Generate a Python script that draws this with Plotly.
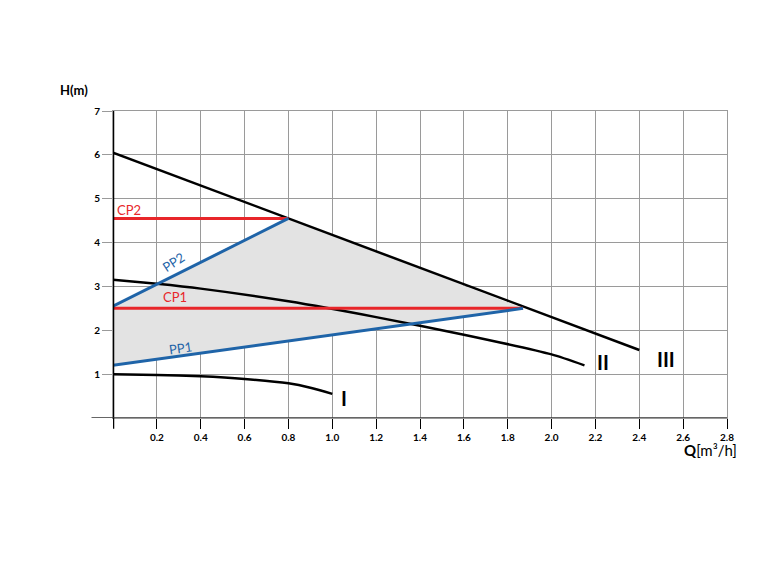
import plotly.graph_objects as go

q1 = [0, 0.2, 0.4, 0.6, 0.8, 0.9, 1.0]
h1 = [1.0, 0.98, 0.95, 0.89, 0.79, 0.69, 0.55]
q2 = [0, 0.2, 0.4, 0.8, 1.2, 1.6, 2.0, 2.15]
h2 = [3.15, 3.06, 2.95, 2.66, 2.3, 1.9, 1.45, 1.2]
q3 = [0, 2.4]
h3 = [6.05, 1.55]
shade_q = [0, 0, 0.8, 1.87, 0]
shade_h = [1.2, 2.55, 4.55, 2.5, 1.2]
cp2_q, cp2_h = [0, 0.8], [4.55, 4.55]
pp2_q, pp2_h = [0, 0.8], [2.55, 4.55]
cp1_q, cp1_h = [0, 1.87], [2.5, 2.5]
pp1_q, pp1_h = [0, 1.87], [1.2, 2.5]
xticks = [0.2, 0.4, 0.6, 0.8, 1.0, 1.2, 1.4, 1.6, 1.8, 2.0, 2.2, 2.4, 2.6, 2.8]
yticks = [1, 2, 3, 4, 5, 6, 7]

RED = "#e8262a"; BLUE = "#1f64a8"
fig = go.Figure()
fig.add_trace(go.Scatter(x=shade_q, y=shade_h, fill="toself", fillcolor="#e3e3e3", line=dict(width=0), mode="lines"))
for x, y in [(q1, h1), (q2, h2), (q3, h3)]:
    fig.add_trace(go.Scatter(x=x, y=y, mode="lines", line=dict(color="black", width=2.5, shape="spline", smoothing=0.6)))
for x, y in [(cp2_q, cp2_h), (cp1_q, cp1_h)]:
    fig.add_trace(go.Scatter(x=x, y=y, mode="lines", line=dict(color=RED, width=3)))
for x, y in [(pp2_q, pp2_h), (pp1_q, pp1_h)]:
    fig.add_trace(go.Scatter(x=x, y=y, mode="lines", line=dict(color=BLUE, width=3)))

F = "Lato"
ann = [
    dict(x=0.01, y=4.75, text="CP2", color=RED, angle=0),
    dict(x=0.22, y=2.75, text="CP1", color=RED, angle=0),
    dict(x=0.2, y=3.55, text="PP2", color=BLUE, angle=-33),
    dict(x=0.24, y=1.6, text="PP1", color=BLUE, angle=-8),
]
for a in ann:
    fig.add_annotation(x=a["x"], y=a["y"], text=a["text"], showarrow=False, xanchor="left",
                       textangle=a["angle"], font=dict(family=F, size=13, color=a["color"]))
for x, y, t in [(1.03, 0.45, "I"), (2.2, 1.28, "II"), (2.47, 1.35, "III")]:
    fig.add_annotation(x=x, y=y, text="<b>"+t+"</b>", showarrow=False, xanchor="left",
                       font=dict(family=F, size=20, color="black"))
fig.add_annotation(xref="paper", yref="paper", x=-0.09, y=1.1, text="<b>H(m)</b>", showarrow=False,
                   xanchor="left", font=dict(family=F, size=13, color="black"))
fig.add_annotation(xref="paper", yref="paper", x=1.02, y=-0.14, text="<b>Q</b>[m³/h]", showarrow=False,
                   xanchor="right", font=dict(family=F, size=15, color="black"))

fig.update_layout(
    width=774, height=570, showlegend=False, plot_bgcolor="white", paper_bgcolor="white",
    margin=dict(l=105, r=55, t=103, b=160),
    xaxis=dict(range=[0, 2.8], tickvals=xticks, ticktext=["<b>%.1f</b>" % v for v in xticks],
               showgrid=True, gridcolor="#9a9a9a", gridwidth=1, zeroline=False, automargin=False,
               showline=True, linecolor="#9a9a9a", mirror=True, ticks="outside", ticklen=10,
               tickcolor="black", tickfont=dict(family=F, size=10, color="black")),
    yaxis=dict(range=[0, 7], tickvals=yticks, ticktext=["<b>%d</b>" % v for v in yticks],
               showgrid=True, gridcolor="#9a9a9a", gridwidth=1, automargin=False,
               zeroline=False, showline=True, linecolor="#9a9a9a", mirror=True,
               ticks="outside", ticklen=10, tickcolor="#9a9a9a",
               tickfont=dict(family=F, size=10, color="black")),
)
fig.add_shape(type="line", xref="x", yref="paper", x0=0, x1=0, y0=-0.035, y1=1, line=dict(color="black", width=2.5))
fig.add_shape(type="line", xref="paper", yref="y", x0=-0.035, x1=1, y0=0, y1=0, line=dict(color="#333", width=1.5))
fig.write_html("out.html")
